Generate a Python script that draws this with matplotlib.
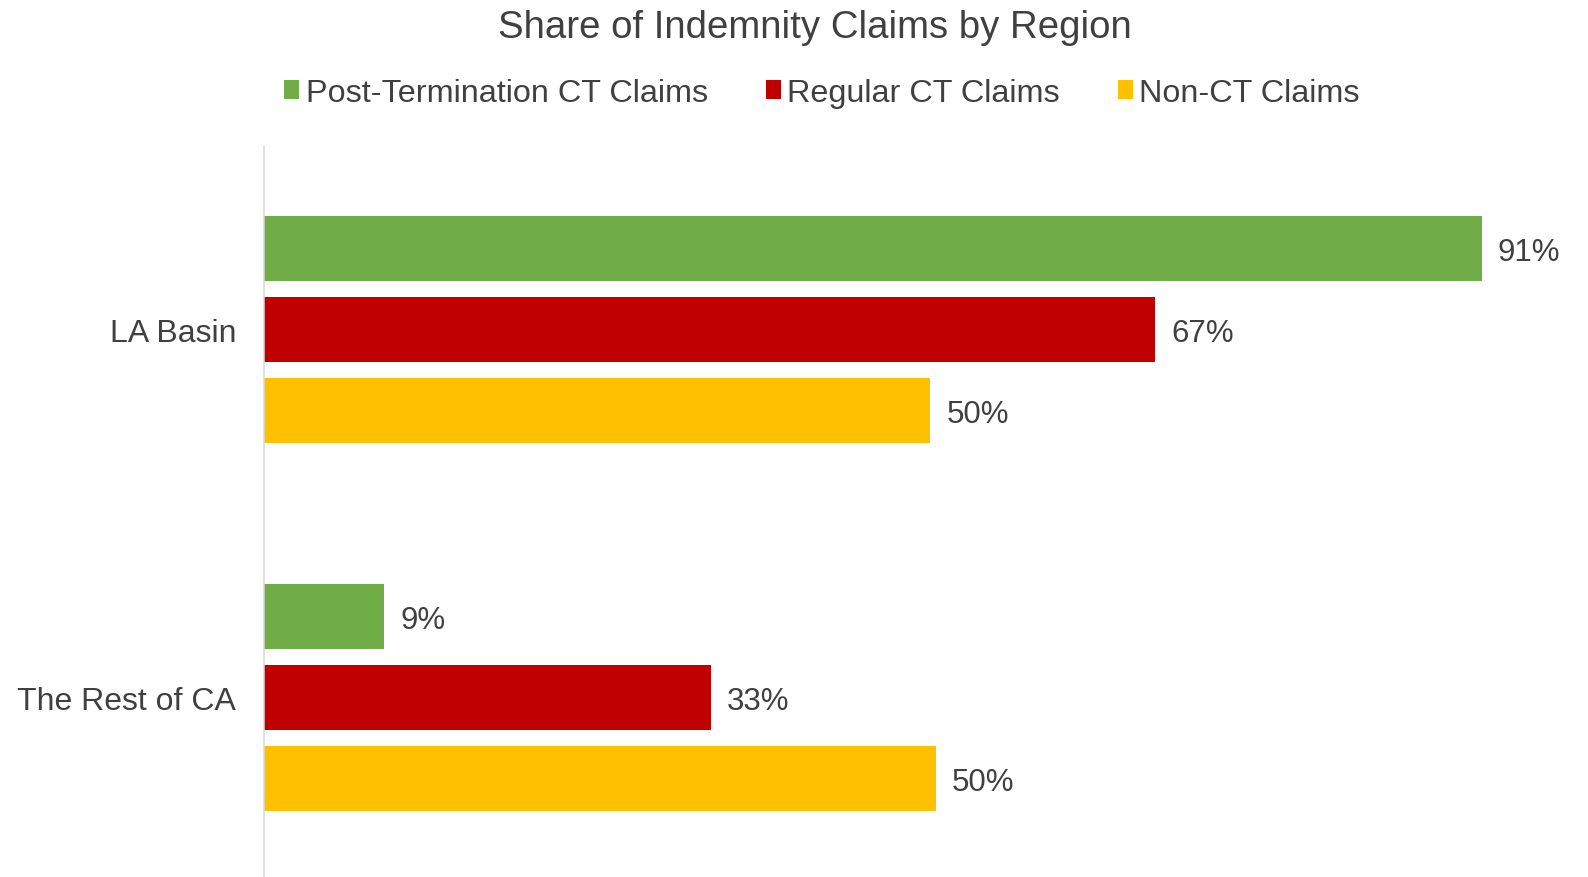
import matplotlib.pyplot as plt

# data (share of claims, %)
regions = ['LA Basin', 'The Rest of CA']
series = ['Post-Termination CT Claims', 'Regular CT Claims', 'Non-CT Claims']
post_termination = [91.0, 9.0]
regular_ct = [66.6, 33.4]
non_ct = [49.8, 50.2]
colors = ['#70AD47', '#C00000', '#FFC000']

plt.rcParams['font.family'] = ['Liberation Sans', 'DejaVu Sans']
text_color = '#404040'

W, H = 1588, 878
fig = plt.figure(figsize=(W / 100, H / 100), dpi=100)
# plot area: left edge at 264 px, top at 147 px, runs off the bottom/right edge
ax = fig.add_axes([264 / W, 1 - 882 / H, (W - 264) / W, 735 / H])

pitch = 0.2204
bar_h = 0.177
handles = []
for i, (name, vals, c) in enumerate(zip(series, [post_termination, regular_ct, non_ct], colors)):
    ys = [r + (i - 1) * pitch for r in range(len(regions))]
    bars = ax.barh(ys, vals, height=bar_h, color=c, edgecolor='none', label=name)
    handles.append(bars)
    for y, v in zip(ys, vals):
        ax.annotate(f'{v:.0f}%', xy=(v, y), xytext=(11.5, 0), textcoords='offset points',
                    va='center_baseline', ha='left', fontsize=22.5, color=text_color)

ax.set_xlim(0, 98.95)
ax.set_ylim(1.5, -0.5)
ax.set_xticks([])
ax.set_yticks(range(len(regions)), regions)
ax.tick_params(axis='y', length=0, pad=20, labelsize=23, labelcolor=text_color)
for s in ['top', 'right', 'bottom']:
    ax.spines[s].set_visible(False)
ax.spines['left'].set_color('#d9d9d9')
ax.spines['left'].set_linewidth(1.1)

fig.text(815 / W, 1 - 38.5 / H, 'Share of Indemnity Claims by Region', ha='center',
         va='baseline', fontsize=27.6, color=text_color)

fig.legend(handles, series, loc='center', bbox_to_anchor=(822 / W, 1 - 94 / H), ncol=3,
           frameon=False, fontsize=23.3, handlelength=0.47, handleheight=0.5,
           handletextpad=0.2, columnspacing=1.78, borderpad=0, labelcolor=text_color)

fig.savefig('out.png', dpi=100)
